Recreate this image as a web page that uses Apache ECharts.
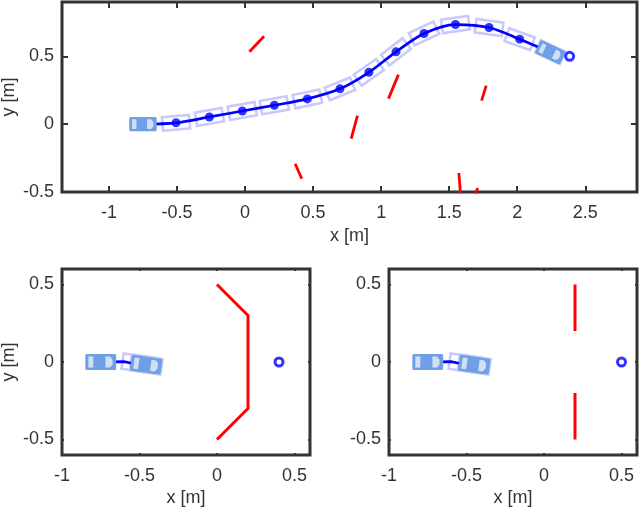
<!DOCTYPE html>
<html>
<head>
<meta charset="utf-8">
<title>Trajectories</title>
<script src="https://cdn.jsdelivr.net/npm/echarts@6/dist/echarts.min.js"></script>
<style>
	html, body { margin: 0; padding: 0; background: #fff; }
	#chart { width: 640px; height: 508px; }
</style>
</head>
<body>
<div id="chart"></div>
<script>
// top panel, all values in metres / degrees
const topXTicks = [-1, -0.5, 0, 0.5, 1, 1.5, 2, 2.5]
const topYTicks = [-0.5, 0, 0.5]
const topPathX = [-0.75, -0.507, -0.262, -0.02, 0.215, 0.458, 0.697, 0.91, 1.109, 1.315, 1.546, 1.793, 2.018, 2.243]
const topPathY = [0, 0.01, 0.053, 0.097, 0.139, 0.186, 0.26, 0.382, 0.533, 0.668, 0.734, 0.712, 0.626, 0.53]
const topGhostAngle = [0, 5, 10, 10, 10, 12, 22, 35, 38, 25, 8, -8, -20, -25]
const topCarX = [-0.75, 2.243]
const topCarY = [0, 0.53]
const topCarAngle = [0, -25]
const topGoal = [2.385, 0.5]
const topWallX = [0.032, 0.14, null, 0.368, 0.417, null, 0.826, 0.78, null, 1.127, 1.054, null, 1.772, 1.738, null, 1.571, 1.583, null, 1.71, 1.68]
const topWallY = [0.533, 0.648, null, -0.292, -0.402, null, 0.063, -0.107, null, 0.365, 0.188, null, 0.284, 0.173, null, -0.36, -0.51, null, -0.47, -0.54]

// bottom panels
const lowXTicks = [-1, -0.5, 0, 0.5]
const lowYTicks = [-0.5, 0, 0.5]
const lowPathX = [-0.75, -0.6, -0.55, -0.45]
const lowPathY = [0, 0.002, -0.008, -0.017]
const leftGhostX = [-0.51, -0.457]
const leftGhostY = [-0.008, -0.017]
const rightGhostX = [-0.51, -0.45]
const rightGhostY = [-0.008, -0.017]
const lowGhostAngle = [-8, -8]
const leftCarX = [-0.75, -0.457]
const rightCarX = [-0.75, -0.45]
const lowCarY = [0, -0.017]
const lowCarAngle = [0, -8]
const leftGoal = [0.4, 0]
const rightGoal = [0.5, 0]
const leftWallX = [0, 0.2, 0.2, 0]
const leftWallY = [0.5, 0.3, -0.3, -0.5]
const rightWallX = [0.2, 0.2, null, 0.2, 0.2]
const rightWallY = [0.5, 0.2, null, -0.2, -0.5]

const textColor = '#333'
const fontName = '"Liberation Sans", Arial, sans-serif'

const zip = (xs, ys, extra) => xs.map((x, i) => {
	if (x === null) return [null, null]
	return extra ? [x, ys[i], extra[i]] : [x, ys[i]]
})

// local car outline corners -> pixels, goes through the grid's own scales
const toPixels = (api, pts) => {
	const cx = api.value(0)
	const cy = api.value(1)
	const a = api.value(2) * Math.PI / 180
	return pts.map((p) => api.coord([
		cx + p[0] * Math.cos(a) - p[1] * Math.sin(a),
		cy + p[0] * Math.sin(a) + p[1] * Math.cos(a),
	]))
}

const renderGhost = (params, api) => ({
	type: 'polygon',
	shape: { points: toPixels(api, [[-0.1, -0.05], [0.1, -0.05], [0.1, 0.05], [-0.1, 0.05]]) },
	style: { fill: 'none', stroke: '#cacafa', lineWidth: 2.6 },
})

const renderCar = (params, api) => ({
	type: 'group',
	children: [
		{
			type: 'polygon',
			shape: { points: toPixels(api, [[-0.09, -0.042], [0.09, -0.042], [0.09, 0.042], [-0.09, 0.042]]) },
			style: { fill: '#6f9fe6', stroke: '#6f9fe6', lineWidth: 3, lineJoin: 'round' },
		},
		{
			type: 'polygon',
			shape: { points: toPixels(api, [[-0.08, -0.036], [-0.048, -0.036], [-0.048, 0.036], [-0.08, 0.036]]) },
			style: { fill: '#cfe0f6' },
		},
		{
			type: 'polygon',
			shape: { points: toPixels(api, [[0.03, -0.036], [0.06, -0.036], [0.076, -0.015], [0.076, 0.015], [0.06, 0.036], [0.03, 0.036]]) },
			style: { fill: '#cfe0f6' },
		},
	],
})

const panel = (idx, cfg) => {
	const mkX = (position, labels) => ({
		type: 'value',
		gridIndex: idx,
		position,
		min: cfg.xMin,
		max: cfg.xMax,
		name: labels ? 'x [m]' : '',
		nameLocation: 'middle',
		nameGap: cfg.xNameGap,
		nameMoveOverlap: false,
		nameTextStyle: { color: textColor, fontSize: 18, fontFamily: fontName },
		splitLine: { show: false },
		axisLine: { show: false, onZero: false },
		axisTick: { show: true, inside: true, length: cfg.tick, customValues: cfg.xTicks, lineStyle: { color: textColor, width: 2 } },
		axisLabel: { show: labels, margin: 12, customValues: cfg.xTicks, color: textColor, fontSize: 18, fontFamily: fontName },
	})
	const mkY = (position, labels) => ({
		type: 'value',
		gridIndex: idx,
		position,
		min: cfg.yMin,
		max: cfg.yMax,
		name: labels && cfg.yName ? 'y [m]' : '',
		nameLocation: 'middle',
		nameGap: 44,
		nameMoveOverlap: false,
		nameTextStyle: { color: textColor, fontSize: 18, fontFamily: fontName },
		splitLine: { show: false },
		axisLine: { show: false, onZero: false },
		axisTick: { show: true, inside: true, length: cfg.tick, customValues: cfg.yTicks, lineStyle: { color: textColor, width: 2 } },
		axisLabel: { show: labels, margin: 8, customValues: cfg.yTicks, color: textColor, fontSize: 18, fontFamily: fontName },
	})

	const xAxisIndex = idx * 2
	const yAxisIndex = idx * 2
	const base = { xAxisIndex, yAxisIndex, silent: true, animation: false }

	return {
		grid: { show: true, outerBoundsMode: 'none', left: cfg.left, top: cfg.top, width: cfg.width, height: cfg.height, borderColor: textColor, borderWidth: 3, backgroundColor: '#fff' },
		xAxis: [mkX('bottom', true), mkX('top', false)],
		yAxis: [mkY('left', true), mkY('right', false)],
		series: [
			{ ...base, type: 'custom', renderItem: renderGhost, data: cfg.ghosts, encode: { x: 0, y: 1 }, z: 2 },
			{ ...base, type: 'line', data: cfg.path, smooth: cfg.smooth, symbol: 'none', lineStyle: { color: '#0000ff', width: 2.7 }, z: 3 },
			{ ...base, type: 'scatter', data: cfg.markers, symbol: 'circle', symbolSize: 9, itemStyle: { color: '#0000ff' }, z: 4 },
			{ ...base, type: 'line', data: cfg.wall, connectNulls: false, symbol: 'none', lineStyle: { color: '#ff0000', width: cfg.wallWidth, cap: 'butt' }, z: 3 },
			{ ...base, type: 'scatter', data: [cfg.goal], symbol: 'circle', symbolSize: 8, itemStyle: { color: '#fff', borderColor: '#0000ff', borderWidth: 3 }, z: 4 },
			{ ...base, type: 'custom', renderItem: renderCar, data: cfg.cars, encode: { x: 0, y: 1 }, z: 5 },
		],
	}
}

const panels = [
	panel(0, {
		left: 62, top: 2, width: 575, height: 190,
		xMin: -1.345, xMax: 2.88, yMin: -0.5, yMax: 0.9,
		xTicks: topXTicks, yTicks: topYTicks, tick: 6, xNameGap: 35, yName: true,
		ghosts: zip(topPathX, topPathY, topGhostAngle).slice(1),
		path: zip(topPathX, topPathY),
		markers: zip(topPathX, topPathY).slice(1, -1),
		wall: zip(topWallX, topWallY),
		wallWidth: 2.8,
		goal: topGoal,
		cars: zip(topCarX, topCarY, topCarAngle),
		smooth: 0.3,
	}),
	panel(1, {
		left: 62, top: 269, width: 248, height: 186,
		xMin: -1, xMax: 0.6, yMin: -0.6, yMax: 0.6,
		xTicks: lowXTicks, yTicks: lowYTicks, tick: 2, xNameGap: 34, yName: true,
		ghosts: zip(leftGhostX, leftGhostY, lowGhostAngle),
		path: zip(lowPathX, lowPathY),
		markers: [],
		wall: zip(leftWallX, leftWallY),
		wallWidth: 3,
		goal: leftGoal,
		cars: zip(leftCarX, lowCarY, lowCarAngle),
		smooth: false,
	}),
	panel(2, {
		left: 389, top: 269, width: 248, height: 186,
		xMin: -1, xMax: 0.6, yMin: -0.6, yMax: 0.6,
		xTicks: lowXTicks, yTicks: lowYTicks, tick: 2, xNameGap: 34, yName: false,
		ghosts: zip(rightGhostX, rightGhostY, lowGhostAngle),
		path: zip(lowPathX, lowPathY),
		markers: [],
		wall: zip(rightWallX, rightWallY),
		wallWidth: 3,
		goal: rightGoal,
		cars: zip(rightCarX, lowCarY, lowCarAngle),
		smooth: false,
	}),
]

const chart = echarts.init(document.getElementById('chart'), null, { renderer: 'canvas' })
chart.setOption({
	animation: false,
	backgroundColor: '#fff',
	grid: panels.map((p) => p.grid),
	xAxis: panels.flatMap((p) => p.xAxis),
	yAxis: panels.flatMap((p) => p.yAxis),
	series: panels.flatMap((p) => p.series),
})
</script>
</body>
</html>
